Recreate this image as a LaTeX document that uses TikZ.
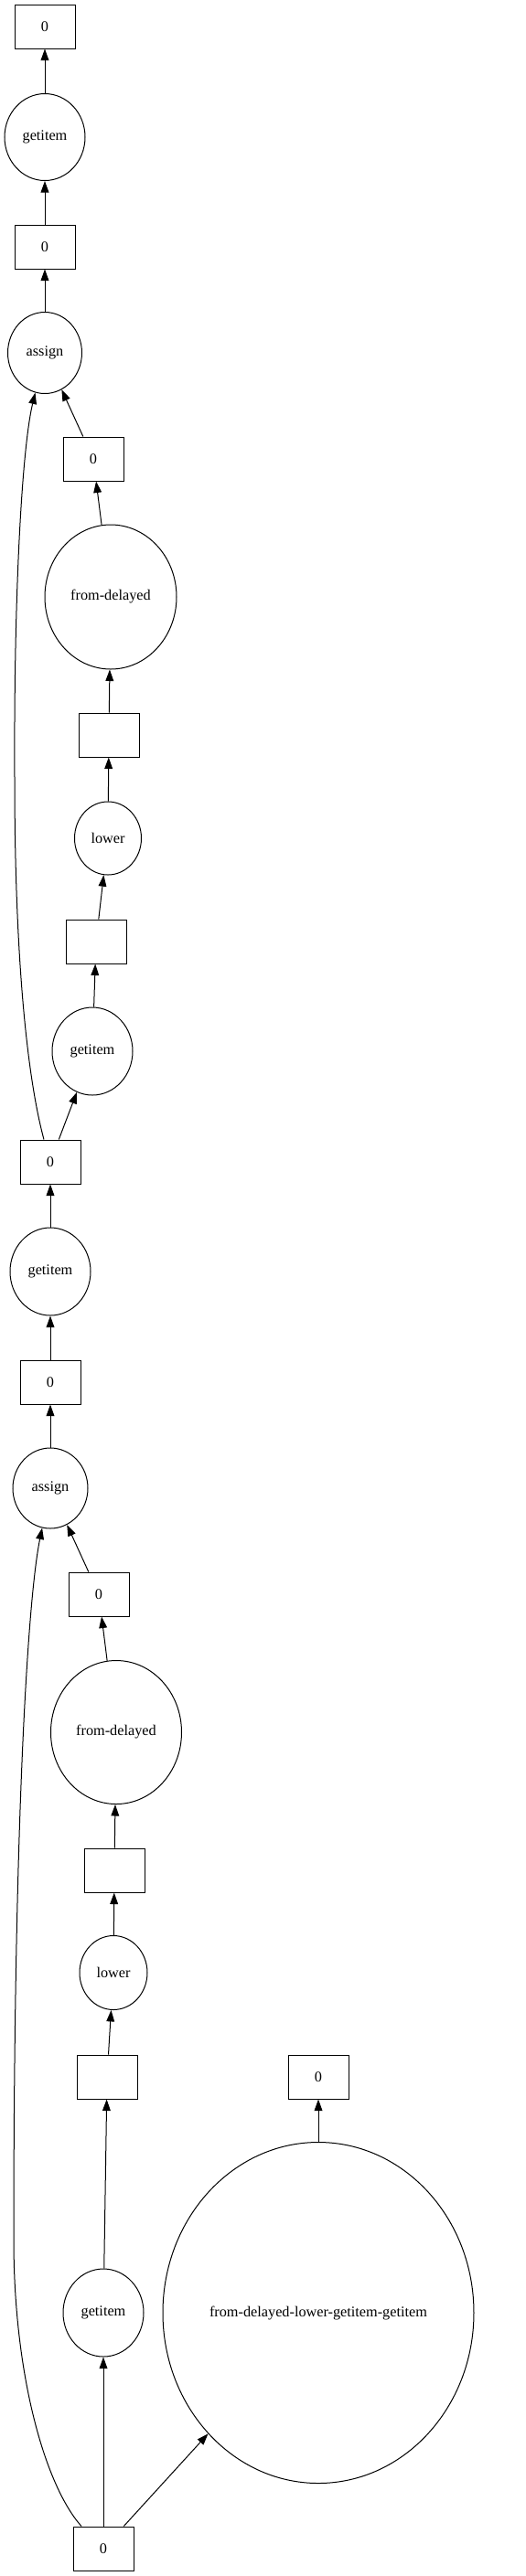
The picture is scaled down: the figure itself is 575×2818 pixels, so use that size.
\documentclass[tikz,border=0pt]{standalone}
\usepackage{fontspec}
\setmainfont{Liberation Serif}
\usetikzlibrary{shapes.geometric,arrows.meta}
\begin{document}
\begin{tikzpicture}[x=0.8pt, y=-0.8pt,
    every node/.style={font=\fontsize{13}{15}\selectfont},
    box/.style={draw, rectangle, line width=0.8pt, minimum width=52.8pt, minimum height=38.4pt, inner sep=0pt},
    op/.style 2 args={draw, ellipse, line width=0.8pt, inner sep=0pt, minimum width=#1*0.8pt, minimum height=#2*0.8pt},
    arr/.style={-{Triangle[length=10pt,width=7pt]}, line width=0.8pt}]
    \useasboundingbox (0,0) rectangle (575,2818);

    % Upper chain
    \node[box] (B1) at (49,29) {0};
    \node[op={88}{95}] (G1) at (49,150) {getitem};
    \node[box] (B2) at (49,270) {0};
    \node[op={81}{89}] (A1) at (49,386) {assign};
    \node[box] (B3) at (102,502) {0};
    \node[op={144}{158}] (FD1) at (121,653) {from-delayed};
    \node[box] (B4) at (119,804) {};
    \node[op={73}{80}] (L1) at (118,917) {lower};
    \node[box] (B5) at (105,1030) {};
    \node[op={88}{96}] (G2) at (101,1150) {getitem};
    \node[box] (B6) at (55,1271) {0};

    % Lower chain
    \node[op={88}{96}] (G3) at (55,1391) {getitem};
    \node[box] (B7) at (55,1512) {0};
    \node[op={82}{88}] (A2) at (55,1628) {assign};
    \node[box] (B8) at (108,1744) {0};
    \node[op={143}{157}] (FD2) at (127,1895) {from-delayed};
    \node[box] (B9) at (125,2046) {};
    \node[op={74}{81}] (L2) at (124,2158) {lower};
    \node[box] (B10) at (117,2272) {};
    \node[op={88}{96}] (G4) at (113,2530) {getitem};
    \node[box] (B12) at (113,2788) {0};

    % Right branch
    \node[box] (B11) at (348,2272) {0};
    \node[op={340}{373}] (FDL) at (348,2530) {from-delayed-lower-getitem-getitem};

    % Edges
    \draw[arr] (G1) -- (B1);
    \draw[arr] (B2) -- (G1);
    \draw[arr] (A1) -- (B2);
    \draw[arr] (B3) -- (A1);
    \draw[arr] (FD1) -- (B3);
    \draw[arr] (B4) -- (FD1);
    \draw[arr] (L1) -- (B4);
    \draw[arr] (B5) -- (L1);
    \draw[arr] (G2) -- (B5);
    \draw[arr] (B6) -- (G2);
    \draw[arr] ([xshift=-5.6pt]B6.north) .. controls (30,1180) and (16,1050) .. (16,850)
        .. controls (15,650) and (24,490) .. (A1);
    \draw[arr] (G3) -- (B6);
    \draw[arr] (B7) -- (G3);
    \draw[arr] (A2) -- (B7);
    \draw[arr] (B8) -- (A2);
    \draw[arr] (FD2) -- (B8);
    \draw[arr] (B9) -- (FD2);
    \draw[arr] (L2) -- (B9);
    \draw[arr] (B10) -- (L2);
    \draw[arr] (G4) -- (B10);
    \draw[arr] (B12) -- (G4);
    \draw[arr] ([xshift=-19.2pt]B12.north) .. controls (50,2720) and (15,2600) .. (15,2450)
        .. controls (15,2000) and (30,1750) .. (A2);
    \draw[arr] (B12) -- (FDL);
    \draw[arr] (FDL) -- (B11);
\end{tikzpicture}
\end{document}
